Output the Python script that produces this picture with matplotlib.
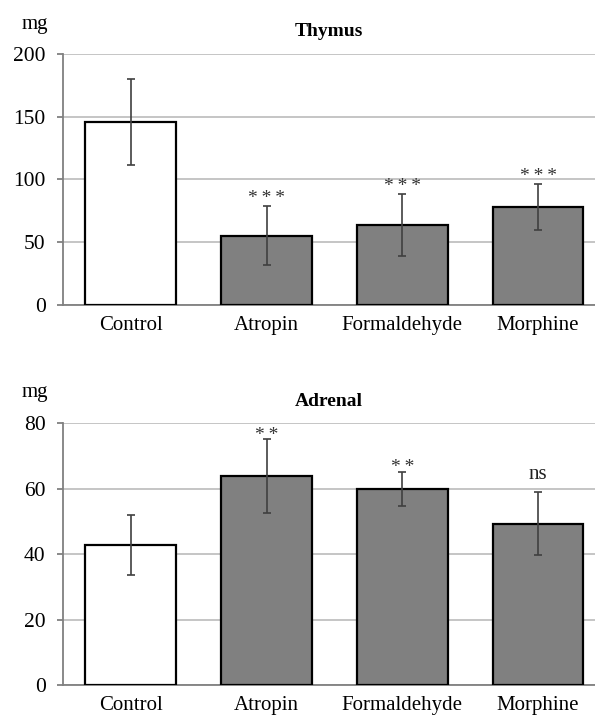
import matplotlib
matplotlib.use("Agg")
import matplotlib.pyplot as plt
import numpy as np

plt.rcParams['font.family'] = ['Liberation Serif', 'DejaVu Serif']

groups = ['Control', 'Atropin', 'Formaldehyde', 'Morphine']

# thymus weight (mg)
thymus = [145.5, 55.2, 63.5, 78.3]
thymus_err = [34.2, 23.6, 24.6, 18.5]
thymus_sig = ['', '***', '***', '***']

# adrenal weight (mg)
adrenal = [42.8, 63.9, 60.0, 49.3]
adrenal_err = [9.3, 11.2, 5.2, 9.6]
adrenal_sig = ['', '**', '**', 'ns']

fills = ['white', '#808080', '#808080', '#808080']

fig = plt.figure(figsize=(5.95, 7.19), dpi=100)

def panel(rect, vals, errs, sigs, title, ymax, step, title_y, mg_y, star_off):
    ax = fig.add_axes(rect)
    x = np.arange(len(groups))
    ax.bar(x, vals, width=0.67, color=fills, edgecolor='black', linewidth=1.6, zorder=3)
    ax.errorbar(x, vals, yerr=errs, fmt='none', ecolor='#404040', elinewidth=1.2,
                capsize=2.6, capthick=1.2, zorder=4)
    for xi, v, e, s in zip(x, vals, errs, sigs):
        if s == 'ns':
            ax.text(xi, v + e + ymax * 0.03, s, ha='center', va='bottom', fontsize=15, color='#222222')
        elif s:
            ax.text(xi, v + e + ymax * star_off, '\u2009'.join(s), ha='center', va='bottom',
                    fontsize=14, color='#333333')
    ax.set_xlim(-0.5, 3.42)
    ax.set_ylim(0, ymax)
    ax.set_yticks(np.arange(0, ymax + 1, step))
    ax.set_xticks(x)
    ax.set_xticklabels(groups)
    ax.yaxis.grid(True, color='#c0c0c0', linewidth=1.3, zorder=0)
    ax.set_axisbelow(True)
    for sp in ['top', 'right']:
        ax.spines[sp].set_visible(False)
    ax.spines['left'].set_color('#808080')
    ax.spines['left'].set_linewidth(1.3)
    ax.spines['bottom'].set_color('#808080')
    ax.spines['bottom'].set_linewidth(1.3)
    ax.tick_params(axis='y', length=4.5, width=1.3, color='#808080', labelsize=15.5, pad=8)
    ax.tick_params(axis='x', length=0, labelsize=15, pad=8)
    fig.text(0.553, title_y, title, ha='center', va='center', fontsize=14, fontweight='bold')
    fig.text(0.059, mg_y, 'mg', ha='center', va='center', fontsize=15)
    return ax

panel([0.1059, 0.5758, 0.8941, 0.3491], thymus, thymus_err, thymus_sig,
      'Thymus', 200, 50, 1 - 32 / 719, 1 - 24 / 719, -0.004)
panel([0.1059, 0.0473, 0.8941, 0.3640], adrenal, adrenal_err, adrenal_sig,
      'Adrenal', 80, 20, 1 - 402 / 719, 1 - 392 / 719, -0.018)

plt.savefig('out.png', dpi=100)
